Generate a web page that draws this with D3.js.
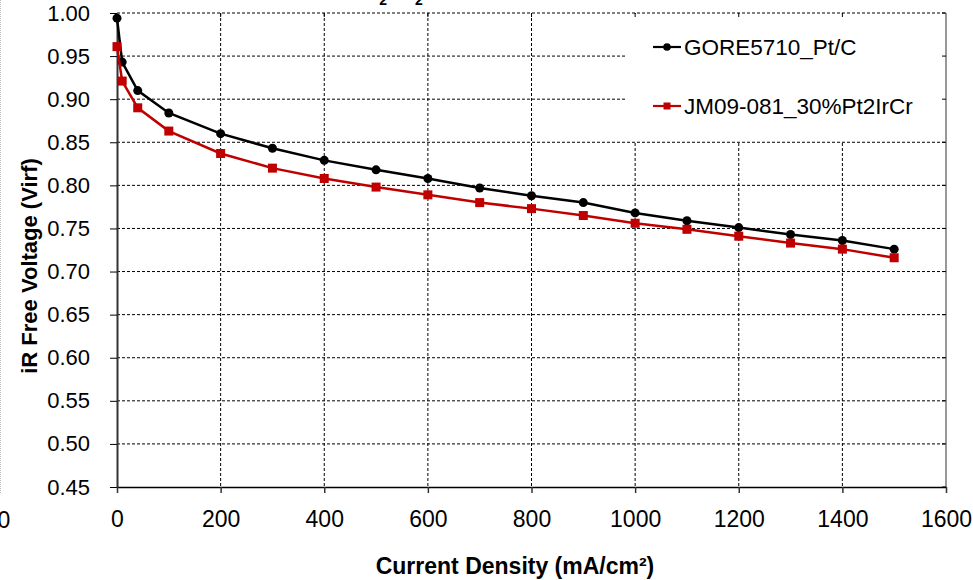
<!DOCTYPE html>
<html>
<head>
<meta charset="utf-8">
<script src="https://cdn.jsdelivr.net/npm/d3@7"></script>
<style>
  body{margin:0;background:#fff}
  svg{display:block;font-family:"Liberation Sans",Arial,sans-serif}
</style>
</head>
<body>
<div id="graph"></div>
<script>
"use strict"
// values
var currentDensity=[0,10,40,100,200,300,400,500,600,700,800,900,1000,1100,1200,1300,1400,1500]
var gorePtC=[0.994,0.943,0.910,0.884,0.860,0.843,0.829,0.818,0.808,0.797,0.788,0.780,0.768,0.759,0.751,0.743,0.736,0.726]
var jmPt2IrCr=[0.961,0.921,0.890,0.863,0.837,0.820,0.808,0.798,0.789,0.780,0.773,0.765,0.756,0.749,0.741,0.733,0.726,0.716]
var seriesNames=['GORE5710_Pt/C','JM09-081_30%Pt2IrCr']
var xTicks=[0,200,400,600,800,1000,1200,1400,1600]
var yTicks=[0.45,0.50,0.55,0.60,0.65,0.70,0.75,0.80,0.85,0.90,0.95,1.00]

var W=973,H=580
var pLeft=117,pRight=946,pTop=13,pBottom=487

var svg=d3.select('#graph').append('svg').attr('width',W).attr('height',H)
var x=d3.scaleLinear().domain([0,1600]).range([pLeft,pRight])
var y=d3.scaleLinear().domain([0.45,1.00]).range([pBottom,pTop])

// faint frame of the outer chart area on the left edge
svg.append('line').attr('x1',0.5).attr('x2',0.5).attr('y1',0).attr('y2',493)
  .attr('stroke','#bbb').attr('stroke-dasharray','1,1')
svg.append('text').attr('x',4).attr('y',528).attr('text-anchor','middle')
  .attr('font-size',23).text('0')

// title, mostly cut off above the picture
var title=svg.append('text').attr('x',364).attr('y',-2).attr('font-size',21).attr('font-weight','bold')
title.append('tspan').text('H')
title.append('tspan').attr('font-size',14).attr('dy',7).text('2')
title.append('tspan').attr('dy',-7).text('\u2013O')
title.append('tspan').attr('font-size',14).attr('dy',7).text('2')

// grid
var grid=svg.append('g')
grid.selectAll('.gy').data(yTicks.slice(1)).enter().append('line')
  .attr('x1',pLeft).attr('x2',pRight).attr('y1',function(d){return y(d)}).attr('y2',function(d){return y(d)})
  .attr('stroke','#000').attr('stroke-dasharray','3,2')
grid.selectAll('.gx').data(xTicks.slice(1,-1)).enter().append('line')
  .attr('x1',function(d){return x(d)}).attr('x2',function(d){return x(d)}).attr('y1',pTop).attr('y2',pBottom)
  .attr('stroke','#000').attr('stroke-dasharray','3,2')
svg.append('line').attr('x1',pRight).attr('x2',pRight).attr('y1',pTop).attr('y2',pBottom)
  .attr('stroke','#777').attr('stroke-width',1.5)

// legend box covers the grid
svg.append('rect').attr('x',627).attr('y',pTop+1).attr('width',pRight-627-1).attr('height',127).attr('fill','#fff')

// small inner ticks on top and right
svg.selectAll('.tt').data(xTicks.slice(1,-1)).enter().append('line')
  .attr('x1',function(d){return x(d)}).attr('x2',function(d){return x(d)}).attr('y1',pTop).attr('y2',pTop+4)
  .attr('stroke','#000')
svg.selectAll('.tr').data(yTicks).enter().append('line')
  .attr('x1',pRight-4).attr('x2',pRight).attr('y1',function(d){return y(d)}).attr('y2',function(d){return y(d)})
  .attr('stroke','#000')

// axes
var yAxis=svg.append('g').attr('transform','translate('+pLeft+',0)')
  .call(d3.axisLeft(y).tickValues(yTicks).tickFormat(d3.format('.2f')).tickSize(7).tickPadding(20).tickSizeOuter(0))
yAxis.select('.domain').attr('stroke','#333').attr('stroke-width',2)
yAxis.selectAll('.tick line').attr('stroke','#000')
yAxis.selectAll('text').attr('font-size',22).attr('font-family','"Liberation Sans",Arial,sans-serif').attr('fill','#000')

var xAxis=svg.append('g').attr('transform','translate(0,'+pBottom+')')
  .call(d3.axisBottom(x).tickValues(xTicks).tickFormat(d3.format('d')).tickSize(6).tickPadding(18).tickSizeOuter(0))
xAxis.select('.domain').attr('stroke','#000').attr('stroke-width',1.5)
xAxis.selectAll('.tick line').attr('stroke','#333').attr('stroke-width',1.5)
xAxis.selectAll('text').attr('font-size',23).attr('font-family','"Liberation Sans",Arial,sans-serif').attr('fill','#000')

// axis titles
svg.append('text').attr('x',515).attr('y',574).attr('text-anchor','middle')
  .attr('font-size',23).attr('font-weight','bold').text('Current Density (mA/cm\u00b2)')
svg.append('text').attr('transform','translate(37,266) rotate(-90)').attr('text-anchor','middle')
  .attr('font-size',22).attr('font-weight','bold').text('iR Free Voltage (Virf)')

// series
var line=d3.line().x(function(d){return x(d[0])}).y(function(d){return y(d[1])})
var black='#000',red='#c00000'
var goreData=d3.zip(currentDensity,gorePtC)
var jmData=d3.zip(currentDensity,jmPt2IrCr)

svg.append('path').datum(goreData).attr('d',line).attr('fill','none').attr('stroke',black).attr('stroke-width',2.5)
svg.selectAll('.pg').data(goreData).enter().append('circle')
  .attr('cx',function(d){return x(d[0])}).attr('cy',function(d){return y(d[1])}).attr('r',4.5).attr('fill',black)

svg.append('path').datum(jmData).attr('d',line).attr('fill','none').attr('stroke',red).attr('stroke-width',2.5)
svg.selectAll('.pj').data(jmData).enter().append('rect')
  .attr('x',function(d){return x(d[0])-4.5}).attr('y',function(d){return y(d[1])-4.5})
  .attr('width',9).attr('height',9).attr('fill',red)

// legend
var leg=svg.append('g')
var legY=[47,106]
leg.selectAll('line').data(legY).enter().append('line')
  .attr('x1',653).attr('x2',681).attr('y1',function(d){return d}).attr('y2',function(d){return d})
  .attr('stroke',function(d,i){return i?red:black}).attr('stroke-width',2.2)
leg.append('circle').attr('cx',667).attr('cy',legY[0]).attr('r',3.8).attr('fill',black)
leg.append('rect').attr('x',663.5).attr('y',legY[1]-3.5).attr('width',7).attr('height',7).attr('fill',red)
leg.selectAll('text').data(seriesNames).enter().append('text')
  .attr('x',684).attr('y',function(d,i){return legY[i]+8}).attr('font-size',22.5).text(function(d){return d})
</script>
</body>
</html>
